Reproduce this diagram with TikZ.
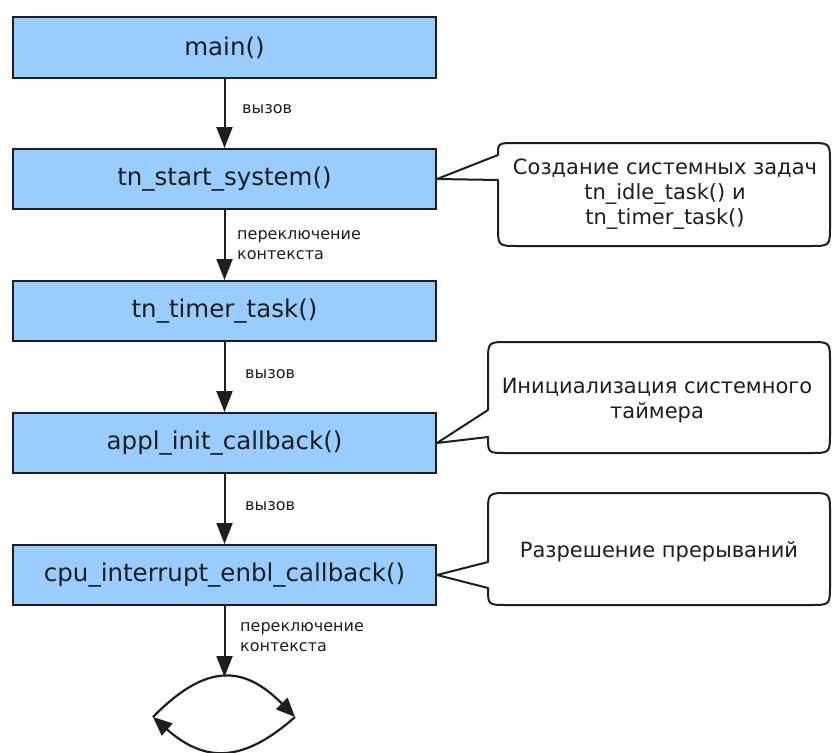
\documentclass[tikz,border=0pt]{standalone}
\usepackage{fontspec}
\setmainfont{DejaVu Sans}
\usetikzlibrary{arrows.meta}
\definecolor{boxblue}{HTML}{99CCFF}
\definecolor{ink}{HTML}{1E1E1E}
\begin{document}
\begin{tikzpicture}[x=1pt,y=-1pt,
 fnbox/.style={draw=ink, line width=2pt, fill=boxblue, minimum width=423pt, minimum height=60pt, inner sep=0pt, font=\fontsize{24.5}{30}\selectfont, text=ink},
 flow/.style={line width=2pt, draw=ink, -{Triangle[length=21pt,width=16pt]}},
 lbl/.style={anchor=west, font=\fontsize{16}{20}\selectfont, text=ink, align=left, inner sep=0pt},
 bubble/.style={draw=ink, line width=2pt, fill=white, line join=round},
 btext/.style={font=\fontsize{21}{25}\selectfont, text=ink, align=center, inner sep=0pt},
 loopar/.style={line width=2.2pt, draw=ink, -{Triangle[length=19pt,width=16pt]}}
]
\useasboundingbox (0,0) rectangle (832,752);

% function boxes
\node[fnbox] (m) at (224.5,47.5) {main()};
\node[fnbox] (s) at (224.5,179) {tn\_start\_system()};
\node[fnbox] (t) at (224.5,311) {tn\_timer\_task()};
\node[fnbox] (a) at (224.5,443) {appl\_init\_callback()};
\node[fnbox] (c) at (224.5,575) {cpu\_interrupt\_enbl\_callback()};

% arrows
\draw[flow] (m) -- (s);
\draw[flow] (s) -- (t);
\draw[flow] (t) -- (a);
\draw[flow] (a) -- (c);
\coordinate (lt) at (224.5,677);
\coordinate (ll) at (153,717);
\coordinate (lr) at (295,717);
\draw[flow] (c) -- (lt);

% arrow labels
\node[lbl] (l1) at (242,109) {вызов};
\node[lbl] (l2) at (237,245) {переключение\\контекста};
\node[lbl] (l3) at (245,374) {вызов};
\node[lbl] (l4) at (245,506) {вызов};
\node[lbl] (l5) at (240,637) {переключение\\контекста};

% callouts
\draw[bubble] (s.east) -- (498,180) -- (498,226) .. controls (498,246) .. (518,246) -- (810,246) .. controls (830,246) .. (830,226) -- (830,163) .. controls (830,143) .. (810,143) -- (516,143) .. controls (498,143) .. (498,155) -- cycle;
\node[btext] (c1) at (665,194) {Создание системных задач\\tn\_idle\_task() и\\tn\_timer\_task()};

\draw[bubble] (a.east) -- (488,437) .. controls (488,453) .. (506,453) -- (810,453) .. controls (830,453) .. (830,433) -- (830,362) .. controls (830,342) .. (810,342) -- (508,342) .. controls (488,342) .. (488,362) -- (488,410) -- cycle;
\node[btext] (c2) at (657,401) {Инициализация системного\\таймера};

\draw[bubble] (c.east) -- (488,588) .. controls (488,605) .. (507,605) -- (810,605) .. controls (830,605) .. (830,585) -- (830,513) .. controls (830,493) .. (810,493) -- (508,493) .. controls (488,493) .. (488,513) -- (488,562) -- cycle;
\node[btext] (c3) at (659,552) {Разрешение прерываний};

% loop
\draw[loopar] (ll) .. controls (205,664) and (243,664) .. (lr);
\draw[loopar] (lr) .. controls (243,763) and (205,763) .. (ll);
\end{tikzpicture}
\end{document}
